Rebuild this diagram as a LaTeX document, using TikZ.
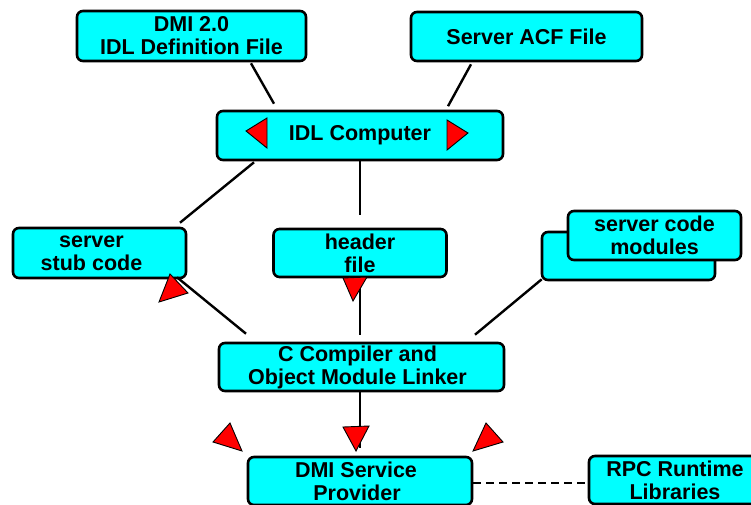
\documentclass[tikz,border=0pt]{standalone}
\usepackage{fontspec}
\setmainfont{Liberation Sans}
\usetikzlibrary{calc}
\definecolor{boxcyan}{RGB}{0,255,255}
\definecolor{arrred}{RGB}{255,0,0}
\begin{document}
\begin{tikzpicture}[x=1pt,y=-1pt,
  box/.style={draw=black, line width=2.6pt, fill=boxcyan, rounded corners=6pt,
    align=center, inner sep=0pt, font=\fontsize{21.5}{23}\selectfont\bfseries},
  link/.style={draw=black, line width=2.4pt},
  dashlink/.style={draw=black, line width=2.2pt, dash pattern=on 8pt off 5pt},
  tri/.style={fill=arrred, draw=black, line width=0.9pt, line join=miter}]
\useasboundingbox (0,0) rectangle (751,504);
\clip (0,0) rectangle (751,504);

% boxes
\node[box, minimum width=229, minimum height=50] (dmi) at (191.5,36) {DMI 2.0\\IDL Definition File};
\node[box, minimum width=231, minimum height=49] (acf) at (526.5,36.5) {Server ACF File};
\node[box, minimum width=286, minimum height=49] (idl) at (360,135.5) {IDL Computer};
\node[box, minimum width=173, minimum height=50] (stub) at (99.5,253) {server\hspace*{16pt}\\stub code\hspace*{16pt}};
\node[box, minimum width=173, minimum height=48] (header) at (360,253) {header\\file};
\node[box, minimum width=173, minimum height=48] (modback) at (628.5,256) {};
\node[box, minimum width=173, minimum height=49] (modules) at (654.5,235.5) {server code\\modules};
\node[box, minimum width=285, minimum height=48] (cc) at (361.5,367) {C Compiler and\hspace*{8pt}\\Object Module Linker\hspace*{8pt}};
\node[box, minimum width=224, minimum height=48] (svc) at (360,481) {DMI Service\hspace*{8pt}\\Provider\hspace*{6pt}};
\node[box, minimum width=172, minimum height=48] (rpc) at (675,480) {RPC Runtime\\Libraries};

% connectors
\draw[link] ($(dmi.south)+(59.5,1)$) -- ($(idl.north)+(-86,-6)$);
\draw[link] ($(acf.south)+(-55.5,2)$) -- ($(idl.north)+(88,-3.5)$);
\draw[link] ($(idl.south)+(-106,1)$) -- ($(stub.north)+(80.5,-4)$);
\draw[link] (idl.south) -- ($(header.north)+(0,-13)$);
\draw[link] ($(cc.north)+(-115.5,-8)$) -- ($(stub.south)+(77.5,-2)$);
\draw[link] (header.south) -- ($(cc.north)+(-1.5,-7)$);
\draw[link] ($(modback.south west)+(1,-2)$) -- ($(cc.north)+(113.5,-7)$);
\draw[link] ($(cc.south)+(-1.5,0)$) -- ($(svc.north)+(0,-8)$);
\draw[dashlink] ($(svc.east)+(0,2)$) -- ($(rpc.west)+(0,3)$);

% red triangles
\draw[tri] (246,131) -- (267,118) -- (267,148) -- cycle;
\draw[tri] (447,120) -- (468,133) -- (447,150) -- cycle;
\draw[tri] (170,274) -- (159,302) -- (188,293) -- cycle;
\draw[tri] (343,278) -- (367,277) -- (353,301) -- cycle;
\draw[tri] (343,427) -- (369,426) -- (356,451) -- cycle;
\draw[tri] (230,423) -- (213,442) -- (242,451) -- cycle;
\draw[tri] (486,423) -- (503,442) -- (473,451) -- cycle;
\end{tikzpicture}
\end{document}
